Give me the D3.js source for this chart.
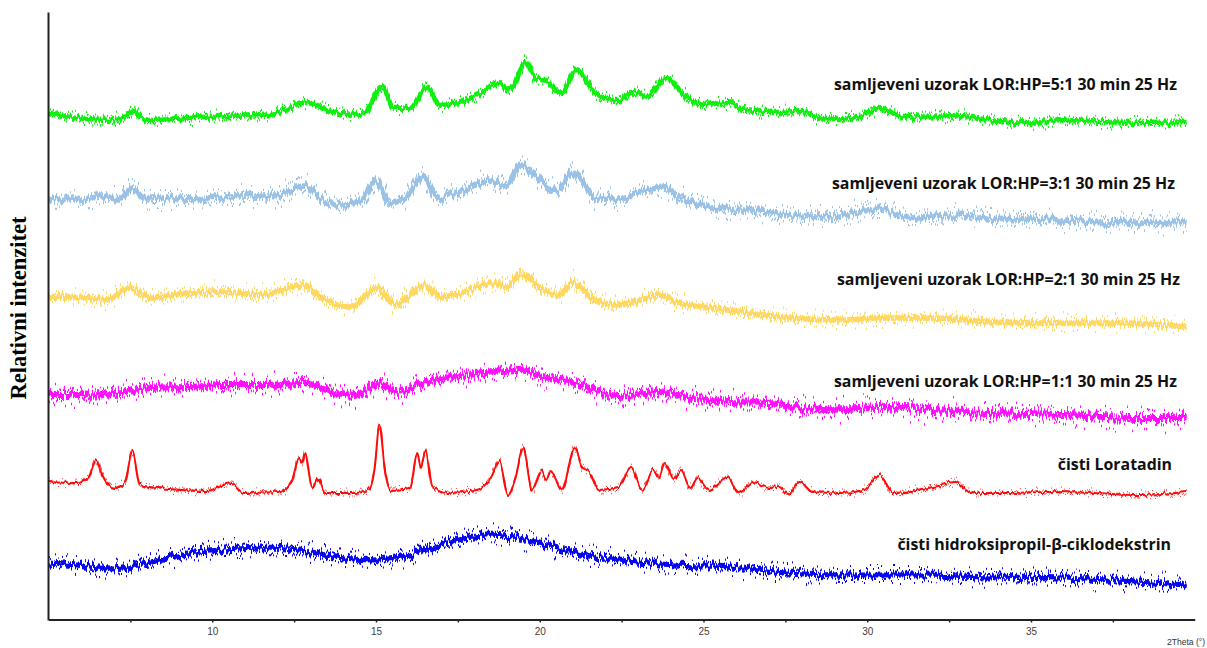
<!DOCTYPE html>
<html>
<head>
<meta charset="utf-8">
<script src="https://cdn.jsdelivr.net/npm/d3@7"></script>
<style>
  body { margin: 0; background: #fff; }
  svg { display: block; }
</style>
</head>
<body>
<svg id="chart" width="1207" height="648"></svg>
<script>
// Powder XRD patterns, stacked (relative intensity, a.u., offsets included), 2θ in degrees
const hpbcd = [[5.0,57],[5.87,55],[6.89,51],[8.13,58],[9.26,67],[10.39,70],[11.52,72],[12.65,70],[13.78,63],[14.91,60],[16.04,65],[17.17,78],[18.3,85],[19.2,83],[20.56,72],[21.69,63],[22.4,60],[24.14,55],[25.84,53],[27.53,47],[29.23,45],[31.5,45],[33.75,43],[36.0,42],[38.27,38],[39.75,35]];

const loratadin = [[5.0,138],[5.87,137],[6.21,142],[6.46,160],[6.64,145],[7.0,132],[7.34,138],[7.56,170],[7.79,135],[8.69,131],[9.82,129],[10.59,137],[10.95,127],[12.08,128],[12.42,138],[12.65,162],[12.75,157],[12.83,167],[13.05,132],[13.24,142],[13.44,127],[14.34,127],[14.8,131],[14.95,150],[15.11,195],[15.27,150],[15.45,130],[16.04,132],[16.26,167],[16.37,153],[16.51,170],[16.72,133],[17.17,127],[18.07,130],[18.52,143],[18.77,159],[19.03,125],[19.26,142],[19.49,172],[19.77,130],[20.05,149],[20.19,140],[20.33,148],[20.67,130],[21.07,172],[21.29,153],[21.52,148],[21.8,130],[22.4,133],[22.79,153],[23.13,130],[23.47,150],[23.64,143],[23.81,157],[24.09,140],[24.31,150],[24.6,132],[24.82,142],[25.16,130],[25.73,143],[26.07,127],[26.52,138],[27.0,132],[27.31,133],[27.59,125],[27.93,138],[28.33,128],[29.23,127],[29.91,130],[30.36,145],[30.81,127],[31.5,130],[32.17,134],[32.68,138],[33.18,127],[34.31,127],[35.44,128],[36.91,127],[38.27,125],[39.75,128]];

const ratio11 = [[5.0,225],[5.87,225],[7.0,227],[8.13,232],[9.26,233],[10.39,235],[11.52,235],[12.76,237],[13.78,227],[14.34,225],[15.13,237],[15.59,227],[16.5,238],[17.17,242],[18.3,247],[19.43,250],[20.1,243],[21.0,238],[21.69,230],[22.4,224],[23.58,228],[24.71,222],[25.84,218],[26.97,217],[28.66,210],[30.36,213],[32.05,210],[33.75,207],[36.0,205],[38.27,202],[39.75,202]];

const ratio21 = [[5.0,323],[5.87,323],[6.76,320],[7.5,332],[8.13,322],[9.26,327],[10.39,328],[11.52,325],[12.76,335],[13.33,322],[14.23,313],[15.02,332],[15.59,315],[16.5,335],[16.94,323],[17.73,328],[18.52,337],[18.98,333],[19.46,347],[19.88,335],[20.56,325],[21.0,337],[21.69,320],[22.3,315],[22.9,318],[23.64,325],[24.26,317],[25.27,312],[26.4,307],[27.65,302],[29.23,300],[30.36,302],[32.05,302],[33.75,298],[36.0,297],[37.7,297],[39.75,293]];

const ratio31 = [[5.0,420],[5.87,421],[6.83,423],[7.2,422],[7.56,432],[7.9,423],[8.13,421],[9.26,421],[10.39,423],[11.52,423],[12.2,427],[12.82,434],[13.33,421],[14.0,415],[14.57,420],[15.02,438],[15.42,418],[15.92,423],[16.44,442],[16.89,423],[17.5,427],[18.41,440],[18.98,435],[19.43,455],[19.88,443],[20.56,430],[21.0,447],[21.69,423],[22.3,420],[22.9,427],[23.69,433],[24.26,422],[25.27,413],[26.18,410],[27.65,405],[28.55,403],[30.36,410],[31.5,402],[32.63,405],[33.75,402],[36.0,400],[37.14,397],[38.27,398],[39.75,397]];

const ratio51 = [[5.0,507],[6.1,501],[7.0,500],[7.35,503],[7.62,509],[7.85,502],[8.13,500],[9.26,502],[10.39,504],[11.52,505],[12.08,508],[12.88,518],[13.55,510],[14.34,505],[14.68,508],[15.19,533],[15.53,512],[16.04,512],[16.55,533],[16.94,515],[17.5,517],[18.18,527],[18.75,537],[19.09,530],[19.57,558],[19.88,542],[20.16,540],[20.67,527],[21.12,550],[21.69,527],[22.35,519],[22.9,528],[23.24,523],[23.86,542],[24.48,523],[25.05,515],[25.73,518],[26.29,510],[27.2,508],[27.99,509],[28.55,502],[29.68,502],[30.36,512],[31.04,503],[32.84,504],[33.75,500],[34.88,497],[36.0,500],[37.14,498],[38.27,497],[39.75,498]];

const seriesLabels = [
  "samljeveni uzorak LOR:HP=5:1 30 min 25 Hz",
  "samljeveni uzorak LOR:HP=3:1 30 min 25 Hz",
  "samljeveni uzorak LOR:HP=2:1 30 min 25 Hz",
  "samljeveni uzorak LOR:HP=1:1 30 min 25 Hz",
  "čisti Loratadin",
  "čisti hidroksipropil-β-ciklodekstrin"
];
const seriesData = [ratio51, ratio31, ratio21, ratio11, loratadin, hpbcd];

const xTicks = [7.5, 10, 12.5, 15, 17.5, 20, 22.5, 25, 27.5, 30, 32.5, 35, 37.5];
const xTitle = "2Theta (°)";
const yTitle = "Relativni intenzitet";

// drawing styles per trace: colour, band stroke width, detector-noise jitter, label anchor
const styles = [
  { color: "#10f010", width: 4.6, noise: 12, lx: 1177, ly: 90 },
  { color: "#9ac1e6", width: 5.4, noise: 20, lx: 1175, ly: 189 },
  { color: "#ffd862", width: 5.4, noise: 20, lx: 1180, ly: 285 },
  { color: "#ff10ff", width: 5.8, noise: 23, lx: 1177, ly: 387 },
  { color: "#ff0a0a", width: 2.0, noise: 8, lx: 1172, ly: 470 },
  { color: "#0808ee", width: 5.2, noise: 19, lx: 1171, ly: 550 }
];
// jittered passes per trace: [x frequency, jitter factor, stroke factor]
const passes = [[0.5, 0.45, 1.0], [0.9, 1.3, 0.4]];

const svg = d3.select("#chart");
const x = d3.scaleLinear().domain([5, 40]).range([48.5, 1194.75]);
const y = d3.scaleLinear().domain([0, 608]).range([620, 12]);

// noise texture filters (vertical jitter only)
const defs = svg.append("defs");
styles.forEach((s, i) => {
  passes.forEach((p, k) => {
    const f = defs.append("filter")
      .attr("id", `jit${i}_${k}`)
      .attr("filterUnits", "userSpaceOnUse")
      .attr("x", 0).attr("y", 0).attr("width", 1207).attr("height", 648)
      .attr("color-interpolation-filters", "sRGB");
    f.append("feTurbulence")
      .attr("type", "fractalNoise")
      .attr("baseFrequency", `${p[0]} 0.003`)
      .attr("numOctaves", 2)
      .attr("seed", 7 * i + 13 * k + 2)
      .attr("result", "tex");
    f.append("feColorMatrix")
      .attr("in", "tex")
      .attr("type", "matrix")
      .attr("values", "0 0 0 0 0.5  0 1.6 0 0 -0.3  0 0 0 0 0  0 0 0 0 1")
      .attr("result", "map");
    f.append("feDisplacementMap")
      .attr("in", "SourceGraphic")
      .attr("in2", "map")
      .attr("scale", s.noise * p[1])
      .attr("xChannelSelector", "R")
      .attr("yChannelSelector", "G");
  });
});

const line = d3.line()
  .x(d => x(d[0]))
  .y(d => y(d[1]))
  .curve(d3.curveMonotoneX);

const traces = svg.append("g");
seriesData.forEach((data, i) => {
  const s = styles[i];
  passes.forEach((p, k) => {
    traces.append("path")
      .datum(data)
      .attr("d", line)
      .attr("fill", "none")
      .attr("stroke", s.color)
      .attr("stroke-width", s.width * p[2])
      .attr("stroke-linejoin", "round")
      .attr("filter", `url(#jit${i}_${k})`);
  });
});

// axes
const xAxis = d3.axisBottom(x)
  .tickValues(xTicks)
  .tickSize(3)
  .tickSizeOuter(0)
  .tickFormat(d => d % 5 === 0 ? d3.format("d")(d) : "");
const gx = svg.append("g").attr("transform", "translate(0,619.5)").call(xAxis);
gx.select(".domain").attr("stroke", "#222").attr("stroke-width", 2);
gx.selectAll(".tick line").attr("stroke", "#222").attr("stroke-width", 1.5);
gx.selectAll(".tick text")
  .attr("fill", "#404040")
  .attr("font-family", "Liberation Sans, Arial, sans-serif")
  .attr("font-size", 10)
  .attr("dy", "0.9em");

const yAxis = d3.axisLeft(y).tickValues([]).tickSizeOuter(0);
const gy = svg.append("g").attr("transform", "translate(48,0)").call(yAxis);
gy.select(".domain").attr("stroke", "#222").attr("stroke-width", 2);

svg.append("text")
  .attr("x", 1205).attr("y", 645)
  .attr("text-anchor", "end")
  .attr("font-family", "Liberation Sans, Arial, sans-serif")
  .attr("font-size", 8.5)
  .attr("fill", "#333")
  .text(xTitle);

svg.append("text")
  .attr("transform", "translate(26,308) rotate(-90)")
  .attr("text-anchor", "middle")
  .attr("font-family", "Liberation Serif, Times New Roman, serif")
  .attr("font-weight", "bold")
  .attr("font-size", 22.5)
  .attr("fill", "#000")
  .text(yTitle);

// series labels
seriesLabels.forEach((t, i) => {
  svg.append("text")
    .attr("x", styles[i].lx).attr("y", styles[i].ly)
    .attr("text-anchor", "end")
    .attr("font-family", "'Open Sans', 'Noto Sans', sans-serif")
    .attr("font-weight", 700)
    .attr("font-size", 15.9)
    .attr("fill", "#111")
    .text(t);
});
</script>
</body>
</html>
